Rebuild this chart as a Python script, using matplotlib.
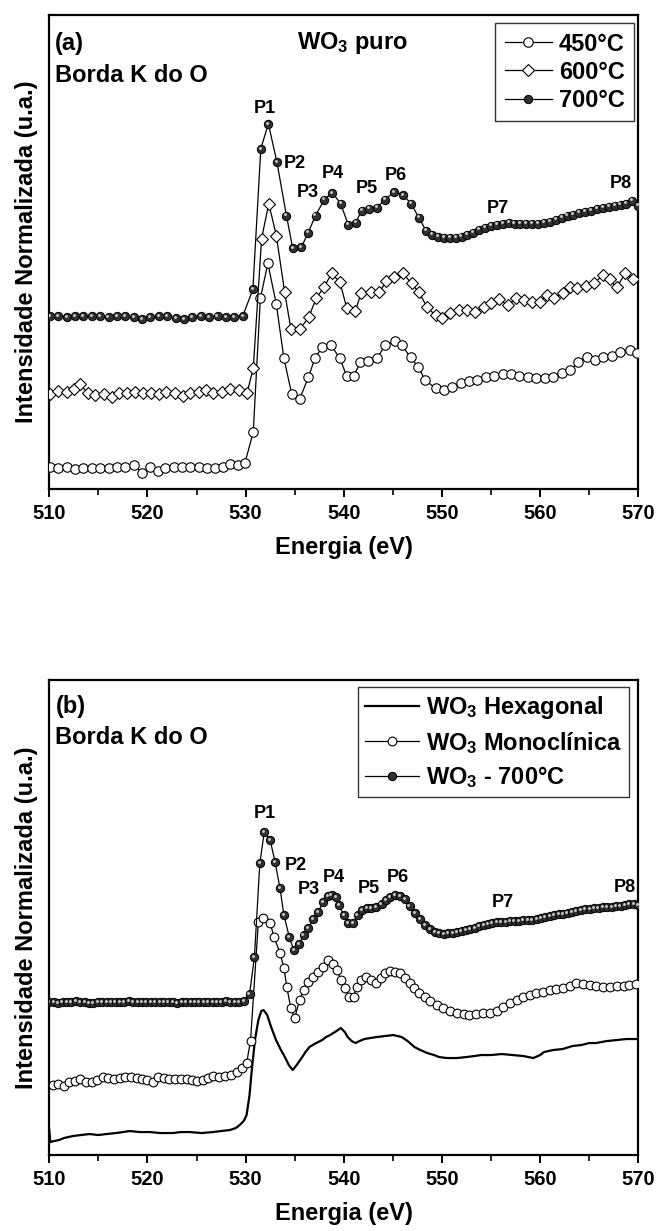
import matplotlib
matplotlib.use("Agg")
import matplotlib.pyplot as plt
from matplotlib.transforms import offset_copy

plt.rcParams['font.family'] = ['Liberation Sans', 'DejaVu Sans']
plt.rcParams['font.weight'] = 'bold'
plt.rcParams['mathtext.fontset'] = 'custom'
plt.rcParams['mathtext.rm'] = 'Liberation Sans:bold'
plt.rcParams['mathtext.bf'] = 'Liberation Sans:bold'
plt.rcParams['mathtext.it'] = 'Liberation Sans:bold'

# ---------------- Panel (a) data ----------------
e_450 = [510.06, 510.92, 511.77, 512.63, 513.48, 514.33, 515.19, 516.04, 516.89, 517.75,
         518.6, 519.46, 520.31, 521.08, 521.81, 522.66, 523.51, 524.37, 525.22, 526.08,
         526.93, 527.66, 528.42, 529.19, 529.92,
         530.78, 531.5, 532.27, 533.13, 533.9, 534.7, 535.5, 536.4, 537.06, 537.8,
         538.7, 539.6, 540.3, 541.0, 541.7, 542.5, 543.4, 544.2, 545.2, 545.9,
         546.8, 547.6, 548.3, 549.35, 550.2, 551.06, 551.9, 552.8, 553.6, 554.5,
         555.3, 556.2, 557.0, 557.9, 558.75, 559.6, 560.45, 561.3, 562.2, 563.05,
         563.9, 564.75, 565.6, 566.4, 567.3, 568.15, 569.2, 569.86]
i_450 = [0.217, 0.207, 0.217, 0.20, 0.21, 0.21, 0.207, 0.21, 0.217, 0.217,
         0.24, 0.163, 0.217, 0.183, 0.213, 0.217, 0.217, 0.217, 0.217, 0.21,
         0.21, 0.223, 0.25, 0.24, 0.257,
         0.57, 1.91, 2.26, 1.85, 1.31, 0.95, 0.90, 1.12, 1.31, 1.42,
         1.44, 1.31, 1.13, 1.13, 1.27, 1.28, 1.31, 1.44, 1.48, 1.44,
         1.32, 1.22, 1.09, 1.01, 0.99, 1.02, 1.06, 1.08, 1.09, 1.12,
         1.13, 1.15, 1.15, 1.13, 1.12, 1.11, 1.11, 1.12, 1.16, 1.19,
         1.27, 1.32, 1.29, 1.32, 1.33, 1.37, 1.39, 1.36]

e_600 = [510.06, 510.92, 511.77, 512.5, 513.14, 513.9, 514.68, 515.53, 516.38, 517.11,
         517.96, 518.73, 519.59, 520.4, 521.17, 521.94, 522.79, 523.6, 524.37, 525.23,
         526.0, 526.72, 527.57, 528.43, 529.28, 530.13,
         530.78, 531.63, 532.36, 533.13, 533.98, 534.62, 535.52, 536.42, 537.19, 537.96,
         538.77, 539.62, 540.31, 541.16, 541.76, 542.75, 543.61, 544.33, 545.1, 546.04,
         546.9, 547.66, 548.5, 549.35, 549.99, 550.85, 551.7, 552.56, 553.41, 554.26,
         554.99, 555.84, 556.7, 557.55, 558.32, 559.18, 560.03, 560.67, 561.4, 562.3,
         563.02, 563.79, 564.65, 565.5, 566.36, 567.08, 567.81, 568.66, 569.43]
i_600 = [0.95, 0.98, 0.967, 1.00, 1.05, 0.963, 0.94, 0.947, 0.923, 0.957,
         0.963, 0.973, 0.957, 0.963, 0.947, 0.967, 0.957, 0.933, 0.963, 0.973,
         0.99, 0.963, 0.973, 1.00, 0.99, 0.957,
         1.21, 2.51, 2.86, 2.54, 1.97, 1.60, 1.60, 1.72, 1.91, 2.02,
         2.16, 2.07, 1.81, 1.78, 1.96, 1.97, 1.97, 2.08, 2.12, 2.16,
         2.06, 1.97, 1.82, 1.74, 1.71, 1.76, 1.79, 1.79, 1.77, 1.82,
         1.86, 1.90, 1.84, 1.91, 1.89, 1.87, 1.87, 1.94, 1.91, 1.96,
         2.02, 2.01, 2.03, 2.06, 2.14, 2.10, 2.02, 2.16, 2.10]

e_700a = [510.06, 510.92, 511.77, 512.62, 513.48, 514.33, 515.18, 516.04, 516.89, 517.75,
          518.6, 519.45, 520.31, 521.16, 522.02, 522.87, 523.72, 524.58, 525.43, 526.29,
          527.14, 527.99, 528.85, 529.7,
          530.74, 531.55, 532.32, 533.18, 534.16, 534.8, 535.67, 536.38, 537.12, 538.02,
          538.83, 539.68, 540.45, 541.22, 541.82, 542.6, 543.36, 544.21, 545.16, 546.0,
          546.86, 547.64, 548.37, 549.0, 549.6, 550.2, 550.8, 551.4, 552.0, 552.6,
          553.2, 553.8, 554.4, 555.0, 555.6, 556.2, 556.8, 557.4, 558.0, 558.6,
          559.2, 559.8, 560.4, 561.0, 561.6, 562.2, 562.8, 563.4, 564.0, 564.6,
          565.2, 565.8, 566.4, 567.0, 567.6, 568.2, 568.8, 569.4, 569.95]
i_700a = [1.73, 1.73, 1.72, 1.73, 1.73, 1.73, 1.73, 1.72, 1.73, 1.73,
          1.72, 1.70, 1.72, 1.73, 1.73, 1.71, 1.70, 1.72, 1.73, 1.72,
          1.73, 1.72, 1.72, 1.73,
          2.00, 3.41, 3.66, 3.28, 2.74, 2.41, 2.42, 2.57, 2.74, 2.90,
          2.97, 2.86, 2.65, 2.67, 2.79, 2.81, 2.82, 2.90, 2.98, 2.95,
          2.86, 2.72, 2.59, 2.55, 2.53, 2.52, 2.52, 2.52, 2.53, 2.55,
          2.57, 2.60, 2.62, 2.64, 2.65, 2.66, 2.67, 2.66, 2.66, 2.66,
          2.66, 2.66, 2.67, 2.68, 2.70, 2.72, 2.74, 2.75, 2.77, 2.78,
          2.79, 2.81, 2.82, 2.83, 2.84, 2.85, 2.86, 2.89, 2.84]

peaks = ['P1', 'P2', 'P3', 'P4', 'P5', 'P6', 'P7', 'P8']
peak_e_a = [531.93, 535.06, 536.34, 538.9, 542.3, 545.3, 555.7, 568.2]
peak_i_a = [3.81, 3.26, 2.97, 3.16, 3.01, 3.14, 2.81, 3.06]

# ---------------- Panel (b) data ----------------
e_hex = [510.0, 510.1, 510.5, 511.0, 511.5, 512.4, 513.2, 514.1, 515.0, 515.8,
         516.8, 517.5, 518.2, 519.2, 520.25, 521.3, 522.6, 523.4, 524.3, 525.5,
         526.7, 527.5, 528.4, 529.0, 529.4, 529.8, 530.1, 530.4, 530.6, 530.95,
         531.3, 531.6, 531.83, 532.2, 532.6, 533.1, 533.6, 534.0, 534.4, 534.8,
         535.2, 535.7, 536.1, 536.5, 537.0, 537.4, 537.8, 538.2, 538.6, 539.1,
         539.7, 540.1, 540.4, 540.8, 541.2, 541.6, 542.1, 542.7, 543.35, 544.2,
         545.05, 545.9, 546.5, 547.2, 547.8, 548.5, 549.2, 549.7, 550.5, 551.5,
         552.5, 553.3, 554.0, 555.0, 556.1, 557.2, 558.3, 559.3, 560.0, 560.4,
         561.3, 562.3, 563.3, 564.2, 565.0, 565.7, 566.8, 567.8, 568.8, 570.0]
i_hex = [0.25, 0.13, 0.14, 0.15, 0.17, 0.19, 0.20, 0.21, 0.20, 0.21,
         0.22, 0.23, 0.24, 0.23, 0.23, 0.22, 0.22, 0.23, 0.23, 0.22,
         0.23, 0.24, 0.25, 0.27, 0.30, 0.34, 0.40, 0.60, 0.82, 1.15,
         1.35, 1.44, 1.45, 1.40, 1.28, 1.15, 1.05, 0.98, 0.90, 0.85,
         0.90, 0.97, 1.03, 1.08, 1.11, 1.13, 1.15, 1.18, 1.20, 1.23,
         1.27, 1.23, 1.18, 1.14, 1.12, 1.14, 1.16, 1.17, 1.18, 1.19,
         1.20, 1.18, 1.14, 1.08, 1.05, 1.02, 1.00, 0.98, 0.97, 0.97,
         0.98, 0.99, 1.00, 1.00, 1.01, 1.00, 0.99, 0.97, 1.00, 1.03,
         1.05, 1.06, 1.09, 1.10, 1.12, 1.12, 1.14, 1.15, 1.16, 1.16]

e_mono = [510.41, 510.92, 511.5, 512.04, 512.62, 513.13, 513.74, 514.31, 514.89, 515.43,
          516.01, 516.59, 517.2, 517.71, 518.29, 518.9, 519.41, 519.98, 520.53, 521.1,
          521.68, 522.22, 522.8, 523.38, 523.99, 524.5, 525.07, 525.62, 526.19, 526.7,
          527.31, 527.89, 528.47, 529.08, 529.59, 530.1, 530.5,
          531.3, 531.8, 532.5, 532.9, 533.5, 533.9, 534.2, 534.6, 535.0, 535.5,
          535.9, 536.4, 536.9, 537.4, 537.9, 538.4, 538.9, 539.3, 539.7, 540.1,
          540.55, 541.0, 541.3, 541.8, 542.3, 542.8, 543.3, 543.75, 544.2, 544.7,
          545.2, 545.7, 546.2, 546.7, 547.2, 547.7, 548.25, 548.8, 549.45, 550.1,
          550.8, 551.5, 552.2, 552.8, 553.5, 554.2, 554.9, 555.6, 556.2, 556.9,
          557.6, 558.3, 559.0, 559.6, 560.3, 561.0, 561.65, 562.3, 563.0, 563.7,
          564.4, 565.1, 565.7, 566.4, 567.1, 567.8, 568.5, 569.1, 569.75]
i_mono = [0.70, 0.71, 0.693, 0.733, 0.743, 0.757, 0.733, 0.733, 0.75, 0.777,
          0.767, 0.757, 0.767, 0.777, 0.783, 0.767, 0.757, 0.75, 0.733, 0.783,
          0.767, 0.757, 0.757, 0.757, 0.757, 0.75, 0.743, 0.75, 0.767, 0.79,
          0.777, 0.79, 0.80, 0.833, 0.867, 0.917, 1.143,
          2.33, 2.37, 2.32, 2.18, 2.02, 1.87, 1.68, 1.47, 1.37, 1.55,
          1.65, 1.73, 1.78, 1.83, 1.88, 1.95, 1.91, 1.85, 1.75, 1.67,
          1.58, 1.58, 1.68, 1.75, 1.78, 1.75, 1.72, 1.77, 1.82, 1.84,
          1.83, 1.82, 1.77, 1.72, 1.67, 1.62, 1.58, 1.54, 1.50, 1.47,
          1.44, 1.42, 1.41, 1.40, 1.41, 1.42, 1.42, 1.44, 1.48, 1.52,
          1.55, 1.58, 1.60, 1.62, 1.63, 1.65, 1.66, 1.67, 1.69, 1.72,
          1.71, 1.70, 1.69, 1.68, 1.68, 1.69, 1.69, 1.70, 1.71]

e_700b = [510.0, 510.45, 510.9, 511.35, 511.8, 512.25, 512.7, 513.15, 513.6, 514.05,
          514.5, 514.95, 515.4, 515.85, 516.3, 516.75, 517.2, 517.65, 518.1, 518.55,
          519.0, 519.45, 519.9, 520.35, 520.8, 521.25, 521.7, 522.15, 522.6, 523.05,
          523.5, 523.95, 524.4, 524.85, 525.3, 525.75, 526.2, 526.65, 527.1, 527.55,
          528.0, 528.45, 528.9, 529.35, 529.8,
          530.4, 530.9, 531.45, 531.9, 532.5, 533.0, 533.5, 533.9, 534.45, 534.9,
          535.45, 535.9, 536.4, 536.9, 537.4, 537.9, 538.4, 538.75, 539.2, 539.5,
          540.0, 540.45, 540.95, 541.4, 541.9, 542.4, 542.8, 543.3, 543.85, 544.3,
          544.75, 545.2, 545.7, 546.2, 546.7, 547.25, 547.75, 548.3, 548.8, 549.3,
          549.75, 550.2, 550.65, 551.1, 551.55, 552.0, 552.45, 552.9, 553.35, 553.8,
          554.25, 554.7, 555.15, 555.6, 556.05, 556.5, 556.95, 557.4, 557.85, 558.3,
          558.75, 559.2, 559.65, 560.1, 560.55, 561.0, 561.45, 561.9, 562.35, 562.8,
          563.25, 563.7, 564.15, 564.6, 565.05, 565.5, 565.95, 566.4, 566.85, 567.3,
          567.75, 568.2, 568.65, 569.1, 569.55, 570.0]
i_700b = [1.53, 1.53, 1.52, 1.53, 1.53, 1.53, 1.54, 1.53, 1.53, 1.52,
          1.52, 1.53, 1.53, 1.53, 1.53, 1.53, 1.53, 1.53, 1.54, 1.53,
          1.53, 1.53, 1.53, 1.53, 1.53, 1.53, 1.53, 1.53, 1.53, 1.52,
          1.53, 1.53, 1.53, 1.53, 1.53, 1.53, 1.53, 1.53, 1.53, 1.53,
          1.54, 1.53, 1.53, 1.53, 1.54,
          1.61, 1.98, 2.92, 3.23, 3.15, 2.93, 2.67, 2.40, 2.18, 2.05,
          2.11, 2.20, 2.27, 2.36, 2.43, 2.53, 2.59, 2.60, 2.58, 2.50,
          2.40, 2.32, 2.32, 2.40, 2.45, 2.47, 2.47, 2.48, 2.51, 2.55,
          2.58, 2.60, 2.59, 2.56, 2.49, 2.42, 2.36, 2.30, 2.26, 2.23,
          2.22, 2.21, 2.22, 2.22, 2.23, 2.24, 2.25, 2.26, 2.27, 2.29,
          2.30, 2.31, 2.32, 2.33, 2.33, 2.33, 2.34, 2.34, 2.34, 2.35,
          2.35, 2.35, 2.36, 2.37, 2.38, 2.39, 2.40, 2.41, 2.41, 2.42,
          2.43, 2.44, 2.45, 2.46, 2.46, 2.47, 2.47, 2.48, 2.48, 2.48,
          2.49, 2.49, 2.50, 2.51, 2.51, 2.50]

peak_e_b = [531.96, 535.1, 536.45, 539.0, 542.5, 545.55, 556.2, 568.6]
peak_i_b = [3.42, 2.90, 2.66, 2.78, 2.67, 2.78, 2.53, 2.68]

xticks = [510, 520, 530, 540, 550, 560, 570]
ylabel = 'Intensidade Normalizada (u.a.)'
xlabel = 'Energia (eV)'

# ---------------- Figure ----------------
fig = plt.figure(figsize=(6.58, 12.31), dpi=100)
ax1 = fig.add_axes([0.0749, 0.6028, 0.8951, 0.3850])
ax2 = fig.add_axes([0.0749, 0.0617, 0.8951, 0.3859])

FS = 17
SPH_FACE = '#303030'


def sphere(ax, x, y, ms, label=None, zorder=5):
    ln, = ax.plot(x, y, '-', color='black', lw=0.9, marker='o', ms=ms,
                  mfc=SPH_FACE, mec='black', mew=0.7, label=label, zorder=zorder)
    tr = offset_copy(ax.transData, fig=fig, x=-0.8, y=0.8, units='points')
    ax.plot(x, y, ls='none', marker='o', ms=ms * 0.35, mfc='#c8c8c8',
            mec='none', transform=tr, zorder=zorder + 0.1)
    return ln


def style(ax, ymax):
    ax.set_xlim(510, 570)
    ax.set_ylim(0, ymax)
    ax.set_yticks([])
    ax.set_xticks(xticks)
    ax.set_xticks([515, 525, 535, 545, 555, 565], minor=True)
    ax.tick_params(axis='x', which='major', direction='out', length=5.5, width=1.4,
                   labelsize=14.5, pad=5.5)
    ax.tick_params(axis='x', which='minor', direction='out', length=4, width=1.2)
    for lab in ax.get_xticklabels():
        lab.set_fontweight('bold')
    for s in ax.spines.values():
        s.set_linewidth(1.6)
    ax.set_xlabel(xlabel, fontsize=FS, fontweight='bold', labelpad=9)
    ax.text(-0.038, 0.5, ylabel, transform=ax.transAxes, rotation=90,
            ha='center', va='center', fontsize=FS, fontweight='bold')


# ---- Panel (a)
ax1.plot(e_450, i_450, '-', color='black', lw=0.9, marker='o', ms=6.8, mfc='white',
         mec='black', mew=0.8, label='450°C', zorder=3)
ax1.plot(e_600, i_600, '-', color='black', lw=0.9, marker='D', ms=6.3, mfc='white',
         mec='black', mew=0.8, label='600°C', zorder=4)
sphere(ax1, e_700a, i_700a, 6.0, label='700°C')
style(ax1, 4.75)
for p, x, y in zip(peaks, peak_e_a, peak_i_a):
    ax1.text(x, y, p, ha='center', va='center', fontsize=13, fontweight='bold')
ax1.text(0.01, 0.94, '(a)', transform=ax1.transAxes, fontsize=FS, fontweight='bold',
         ha='left', va='center')
ax1.text(0.01, 0.873, 'Borda K do O', transform=ax1.transAxes, fontsize=FS,
         fontweight='bold', ha='left', va='center')
ax1.text(0.514, 0.94, 'WO$_3$ puro', transform=ax1.transAxes, fontsize=FS,
         fontweight='bold', ha='center', va='center')
leg1 = ax1.legend(loc='upper right', bbox_to_anchor=(0.993, 0.983), borderaxespad=0,
                  fancybox=False, edgecolor='black', handlelength=2.0,
                  handletextpad=0.3, borderpad=0.4, labelspacing=0.22, numpoints=1,
                  prop={'weight': 'bold', 'size': FS})
leg1.get_frame().set_linewidth(1.0)

# ---- Panel (b)
ax2.plot(e_hex, i_hex, '-', color='black', lw=1.6, label='WO$_3$ Hexagonal', zorder=3)
ax2.plot(e_mono, i_mono, '-', color='black', lw=0.9, marker='o', ms=6.3, mfc='white',
         mec='black', mew=0.8, label='WO$_3$ Monoclínica', zorder=4)
sphere(ax2, e_700b, i_700b, 6.0, label='WO$_3$ - 700°C')
style(ax2, 4.75)
for p, x, y in zip(peaks, peak_e_b, peak_i_b):
    ax2.text(x, y, p, ha='center', va='center', fontsize=13, fontweight='bold')
ax2.text(0.012, 0.945, '(b)', transform=ax2.transAxes, fontsize=FS, fontweight='bold',
         ha='left', va='center')
ax2.text(0.01, 0.88, 'Borda K do O', transform=ax2.transAxes, fontsize=FS,
         fontweight='bold', ha='left', va='center')
leg2 = ax2.legend(loc='upper right', bbox_to_anchor=(0.985, 0.985), borderaxespad=0,
                  fancybox=False, edgecolor='black', handlelength=2.3,
                  handletextpad=0.3, borderpad=0.3, labelspacing=0.36, numpoints=1,
                  prop={'weight': 'bold', 'size': FS})
leg2.get_frame().set_linewidth(1.0)

fig.savefig('out.png', dpi=100)
